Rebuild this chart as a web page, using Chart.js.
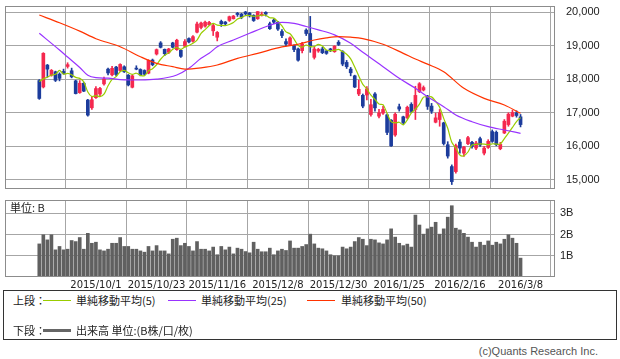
<!DOCTYPE html>
<html><head><meta charset="utf-8">
<script src="https://cdn.jsdelivr.net/npm/chart.js@4.4.0/dist/chart.umd.min.js"></script>
<style>
html,body{margin:0;padding:0;background:#fff;}
body{width:620px;height:359px;position:relative;overflow:hidden;font-family:"Noto Sans CJK JP","Liberation Sans",sans-serif;color:#222;}
canvas{position:absolute;left:0;}
#c1{top:0;}
#c2{top:196px;}
.t{position:absolute;font-size:11px;line-height:13px;white-space:nowrap;}
.box{position:absolute;left:3px;top:290px;width:612px;height:48px;border:1px solid #333;}
.ln{position:absolute;height:1px;}
</style></head>
<body>
<canvas id="c1" width="620" height="195"></canvas>
<canvas id="c2" width="620" height="94"></canvas>
<div class="t" style="left:10px;top:201px;">単位: B</div>
<div class="box">
  <div class="t" style="left:9px;top:3px;">上段：</div>
  <div class="ln" style="left:39px;top:9px;width:28px;background:#99cc00;"></div>
  <div class="t" style="left:72px;top:3px;">単純移動平均(5)</div>
  <div class="ln" style="left:164px;top:9px;width:28px;background:#9933ff;"></div>
  <div class="t" style="left:197px;top:3px;">単純移動平均(25)</div>
  <div class="ln" style="left:303px;top:9px;width:28px;background:#ff3300;"></div>
  <div class="t" style="left:337px;top:3px;">単純移動平均(50)</div>
  <div class="t" style="left:9px;top:33px;">下段：</div>
  <div class="ln" style="left:39px;top:38px;width:28px;height:3px;background:#666;"></div>
  <div class="t" style="left:72px;top:33px;">出来高 単位:(B株/口/枚)</div>
</div>
<div class="t" style="right:22px;top:345px;font-family:'Liberation Sans';color:#555;">(c)Quants Research Inc.</div>
<script>
const dates = ["2015/9/8","2015/9/9","2015/9/10","2015/9/11","2015/9/14","2015/9/15","2015/9/16","2015/9/17","2015/9/18","2015/9/24","2015/9/25","2015/9/28","2015/9/29","2015/9/30",
"2015/10/1","2015/10/2","2015/10/5","2015/10/6","2015/10/7","2015/10/8","2015/10/9","2015/10/13","2015/10/14","2015/10/15","2015/10/16","2015/10/19","2015/10/20","2015/10/21","2015/10/22","2015/10/23","2015/10/26","2015/10/27","2015/10/28","2015/10/29","2015/10/30",
"2015/11/2","2015/11/4","2015/11/5","2015/11/6","2015/11/9","2015/11/10","2015/11/11","2015/11/12","2015/11/13","2015/11/16","2015/11/17","2015/11/18","2015/11/19","2015/11/20","2015/11/24","2015/11/25","2015/11/26","2015/11/27","2015/11/30",
"2015/12/1","2015/12/2","2015/12/3","2015/12/4","2015/12/7","2015/12/8","2015/12/9","2015/12/10","2015/12/11","2015/12/14","2015/12/15","2015/12/16","2015/12/17","2015/12/18","2015/12/21","2015/12/22","2015/12/24","2015/12/25","2015/12/28","2015/12/29","2015/12/30",
"2016/1/4","2016/1/5","2016/1/6","2016/1/7","2016/1/8","2016/1/12","2016/1/13","2016/1/14","2016/1/15","2016/1/18","2016/1/19","2016/1/20","2016/1/21","2016/1/22","2016/1/25","2016/1/26","2016/1/27","2016/1/28","2016/1/29",
"2016/2/1","2016/2/2","2016/2/3","2016/2/4","2016/2/5","2016/2/8","2016/2/9","2016/2/10","2016/2/12","2016/2/15","2016/2/16","2016/2/17","2016/2/18","2016/2/19","2016/2/22","2016/2/23","2016/2/24","2016/2/25","2016/2/26","2016/2/29",
"2016/3/1","2016/3/2","2016/3/3","2016/3/4","2016/3/7","2016/3/8"];

const openP = [17960,17770,18420,18120,18220,18150,18230,18380,18250,17950,
17600,17880,17380,17150,17450,17560,17860,18300,18130,18360,
18260,18370,18120,17760,18330,18290,18260,18180,18570,18750,
19080,18890,18800,19080,18880,18860,18980,19210,19130,19400,
19540,19580,19620,19440,19250,19720,19700,19750,19800,19960,
19940,20000,19970,19900,19800,19900,19990,19650,19760,19700,
19420,19120,19020,19000,18900,18850,19460,19360,18650,18840,
18900,18840,18900,18820,19100,18820,18500,18300,18100,17560,
17520,17530,16950,17560,16900,16990,16940,16780,16340,17180,
16880,16850,17250,17100,17630,17680,17500,17200,16720,16800,
16700,16050,15400,15250,16130,15800,16080,16120,15950,16230,
15800,15970,16440,16420,15930,16400,16650,16900,17000,16880];

const highP = [17990,18790,18440,18290,18240,18190,18300,18490,18330,17970,
17960,17900,17400,17480,17780,17760,18060,18330,18380,18380,
18460,18400,18140,18130,18400,18310,18280,18580,18600,18900,
19120,18900,18920,19100,19190,18880,19180,19230,19300,19700,
19700,19730,19720,19650,19420,19760,19720,19880,19900,19990,
19960,20020,19990,19920,20013,20000,20010,19700,19800,19720,
19480,19200,19260,19020,18930,19100,19500,19870,18960,18920,
18950,18860,18920,19000,19150,18850,18560,18350,18120,17975,
17560,17780,17400,17600,17100,17200,16960,16800,17000,17260,
16900,17200,17300,17790,17900,17800,17520,17280,16990,17100,
16720,16140,15450,16070,16200,16000,16300,16150,16150,16280,
16000,16200,16490,16460,16120,16800,17000,17080,17060,16950];

const lowP = [17400,17740,18060,18090,17930,17950,18150,18330,18040,17560,
17580,17630,16900,17100,17430,17510,17820,18130,18100,18100,
18230,18200,17800,17740,18280,18100,18120,18160,18400,18720,
18930,18700,18760,18930,18860,18650,18950,19080,19100,19380,
19500,19550,19600,19300,19140,19570,19600,19720,19790,19870,
19800,19900,19850,19720,19780,19880,19880,19480,19650,19450,
19240,18990,19000,18820,18540,18780,19300,18800,18600,18800,
18760,18740,18820,18800,19000,18400,18320,18100,17750,17510,
17150,17380,16900,17050,16850,16950,16350,16000,16300,17050,
16650,16820,17000,16800,17600,17650,17100,16980,16700,16600,
16040,15650,14865,15200,15800,15700,16050,15950,15900,16000,
15750,15940,16120,16020,15900,16380,16600,16880,16870,16580];

const closeP = [17427,18770,18300,18264,17966,18026,18172,18432,18070,17572,
17880,17645,16931,17388,17722,17725,18005,18186,18323,18141,
18439,18220,17830,18100,18300,18130,18150,18560,18430,18880,
18950,18760,18900,18950,19160,18680,19120,19110,19266,19643,
19671,19697,19690,19596,19393,19650,19649,19860,19880,19925,
19848,19944,19884,19747,20012,19938,19940,19504,19698,19493,
19301,19046,19230,18883,18566,19050,19360,18987,18900,18887,
18790,18769,18873,18982,19034,18451,18374,18191,17767,17698,
17200,17716,17241,17147,17000,17100,16416,16017,16958,17111,
16709,17164,17041,17518,17865,17751,17191,17045,16850,17004,
16085,15713,14952,16022,15950,15980,16260,16000,16100,16040,
15950,16150,16150,16050,16060,16750,16960,17010,16920,16650];

const ma5 = [17930,18010,18060,18124,18145,18265,18146,18172,18133,18054,
18025,17920,17620,17483,17513,17482,17554,17805,17992,18076,
18219,18262,18191,18146,18178,18116,18102,18248,18314,18430,
18594,18716,18784,18888,18944,18890,18962,19004,19067,19164,
19362,19477,19593,19659,19609,19605,19596,19630,19686,19793,
19832,19891,19896,19870,19887,19905,19904,19828,19818,19715,
19587,19408,19354,19191,19005,18955,19018,18969,18973,19037,
18985,18867,18844,18860,18890,18822,18743,18606,18363,18096,
17846,17714,17524,17400,17261,17241,16981,16736,16698,16720,
16642,16792,16997,17109,17259,17468,17473,17474,17340,17168,
16835,16539,16121,15955,15744,15723,15833,16042,16058,16076,
16070,16048,16078,16068,16072,16232,16394,16566,16740,16858];

// 25- and 50-day averages at these candle positions
const ma25Idx = [0,5,7,10,12,14,17,20,25,29,34,37,40,42,44,48,52,56,60,63,66,69,73,77,80,85,89,93,96,100,103,107,111,115,119];
const ma25Val = [19366,18869,18660,18350,18115,18045,18030,17990,17976,18000,18125,18324,18621,18770,18967,19167,19366,19563,19690,19660,19570,19470,19320,19070,18800,18373,18026,17729,17480,17182,16935,16735,16587,16488,16390];
const ma50Idx = [0,5,10,14,20,25,29,33,36,40,44,49,54,60,64,68,71,74,77,80,85,90,93,96,100,105,110,115,119];
const ma50Val = [19911,19680,19430,19206,18967,18670,18473,18372,18300,18340,18423,18620,18770,18960,19040,19167,19230,19266,19250,19210,19040,18770,18600,18450,18224,17729,17431,17232,16985];

const volume = [1.56,1.99,1.75,1.99,1.28,1.44,1.28,1.31,1.72,1.67,
1.86,1.31,2.06,1.59,1.64,1.28,1.23,1.31,1.59,1.59,
1.86,1.44,1.44,1.31,1.31,1.23,1.17,1.44,1.23,1.48,
1.23,1.23,1.09,1.78,1.83,1.48,1.59,1.44,1.23,1.67,
1.31,1.31,1.23,1.41,1.05,1.44,1.28,1.41,1.09,1.36,
1.31,1.20,1.14,1.64,1.31,1.19,1.19,1.36,1.05,1.23,
1.31,1.25,1.70,1.36,1.36,1.44,1.53,2.02,1.56,1.36,
1.33,1.23,1.05,1.00,1.00,1.41,1.33,1.41,1.67,1.86,
1.78,1.48,1.78,1.75,1.61,1.56,1.75,2.27,1.88,1.59,
1.48,1.55,1.41,2.92,2.45,2.02,2.27,2.35,2.58,2.02,
2.27,2.82,3.36,2.30,2.22,2.06,1.88,1.64,1.41,1.64,
1.50,1.70,1.50,1.64,1.56,1.78,1.99,1.83,1.59,0.89];

const xTickLabels = ["2015/10/1","2015/10/23","2015/11/16","2015/12/8","2015/12/30","2016/1/25","2016/2/16","2016/3/8"];
const priceTicks = [15000,16000,17000,18000,19000,20000];
const volTicks = [1,2,3];

const UP = '#f5284e', DOWN = '#1c3c9c', GRID = '#a6a6a6';
const tickIdx = xTickLabels.map(l => dates.indexOf(l));
const xMin = -8.48, xMax = 127.52;

const frame = {
  id:'frame',
  afterDraw(chart){
    const a = chart.chartArea, c = chart.ctx;
    c.save(); c.strokeStyle = '#8c8c8c'; c.lineWidth = 1;
    c.strokeRect(Math.round(a.left)+0.5, Math.round(a.top)+0.5, Math.round(a.right-a.left)-1, Math.round(a.bottom-a.top)-1);
    c.restore();
  }
};

function xAxis(show){
  return {
    type:'linear', min:xMin, max:xMax, offset:false,
    afterBuildTicks: s => { s.ticks = tickIdx.map(v => ({value:v})); },
    grid:{color:GRID, drawTicks:false, lineWidth:1},
    border:{display:false},
    ticks:{display:show, autoSkip:false, maxRotation:0, minRotation:0, padding:2,
      font:{size:10, family:'DejaVu Sans'}, color:'#222',
      callback:(v,i) => xTickLabels[i]},
    afterFit: s => { s.height = show ? 13 : 0; s.paddingLeft = 0; s.paddingRight = 0; }
  };
}
function yAxis(min,max,ticks,fmt,pad){
  return {
    position:'right', min, max,
    afterBuildTicks: s => { s.ticks = ticks.map(v => ({value:v})); },
    grid:{color:GRID, drawTicks:false, lineWidth:1},
    border:{display:false},
    ticks:{padding:pad, font:{size:11, family:'Liberation Sans'}, color:'#222', callback:fmt},
    afterFit: s => { s.width = 65; s.paddingTop = 0; s.paddingBottom = 0; }
  };
}

const candleCol = openP.map((o,i) => closeP[i] >= o ? UP : DOWN);

new Chart(document.getElementById('c1'), {
  type:'bar',
  data:{datasets:[
    {type:'line', data: ma50Idx.map((x,k)=>({x, y:ma50Val[k]})), borderColor:'#ff3300', borderWidth:1.2, pointRadius:0, cubicInterpolationMode:'monotone', order:0},
    {type:'line', data: ma25Idx.map((x,k)=>({x, y:ma25Val[k]})), borderColor:'#9933ff', borderWidth:1.2, pointRadius:0, cubicInterpolationMode:'monotone', order:0},
    {type:'line', data: ma5.map((v,i)=>({x:i, y:v})), borderColor:'#99cc00', borderWidth:1.2, pointRadius:0, tension:0.3, order:0},
    {data: lowP.map((l,i)=>({x:i, y:[l, highP[i]]})), backgroundColor:candleCol, barThickness:1, grouped:false, order:2},
    {data: openP.map((o,i)=>({x:i, y:[o, closeP[i]]})), backgroundColor:candleCol, barThickness:3, grouped:false, order:1}
  ]},
  options:{
    responsive:false, animation:false, devicePixelRatio:1,
    layout:{padding:{left:5, top:6, right:0, bottom:6}},
    plugins:{legend:{display:false}, tooltip:{enabled:false}},
    scales:{
      x: xAxis(false),
      y: yAxis(14732, 20179, priceTicks, v => v.toLocaleString('en-US'), 11)
    }
  },
  plugins:[frame]
});

new Chart(document.getElementById('c2'), {
  type:'bar',
  data:{datasets:[
    {data: volume.map((v,i)=>({x:i, y:v})), backgroundColor:'#606060', barThickness:3}
  ]},
  options:{
    responsive:false, animation:false, devicePixelRatio:1,
    layout:{padding:{left:5, top:4, right:0, bottom:0}},
    plugins:{legend:{display:false}, tooltip:{enabled:false}},
    scales:{
      x: xAxis(true),
      y: yAxis(0, 3.63, volTicks, v => v + 'B', 5)
    }
  },
  plugins:[frame]
});
</script>
</body></html>
